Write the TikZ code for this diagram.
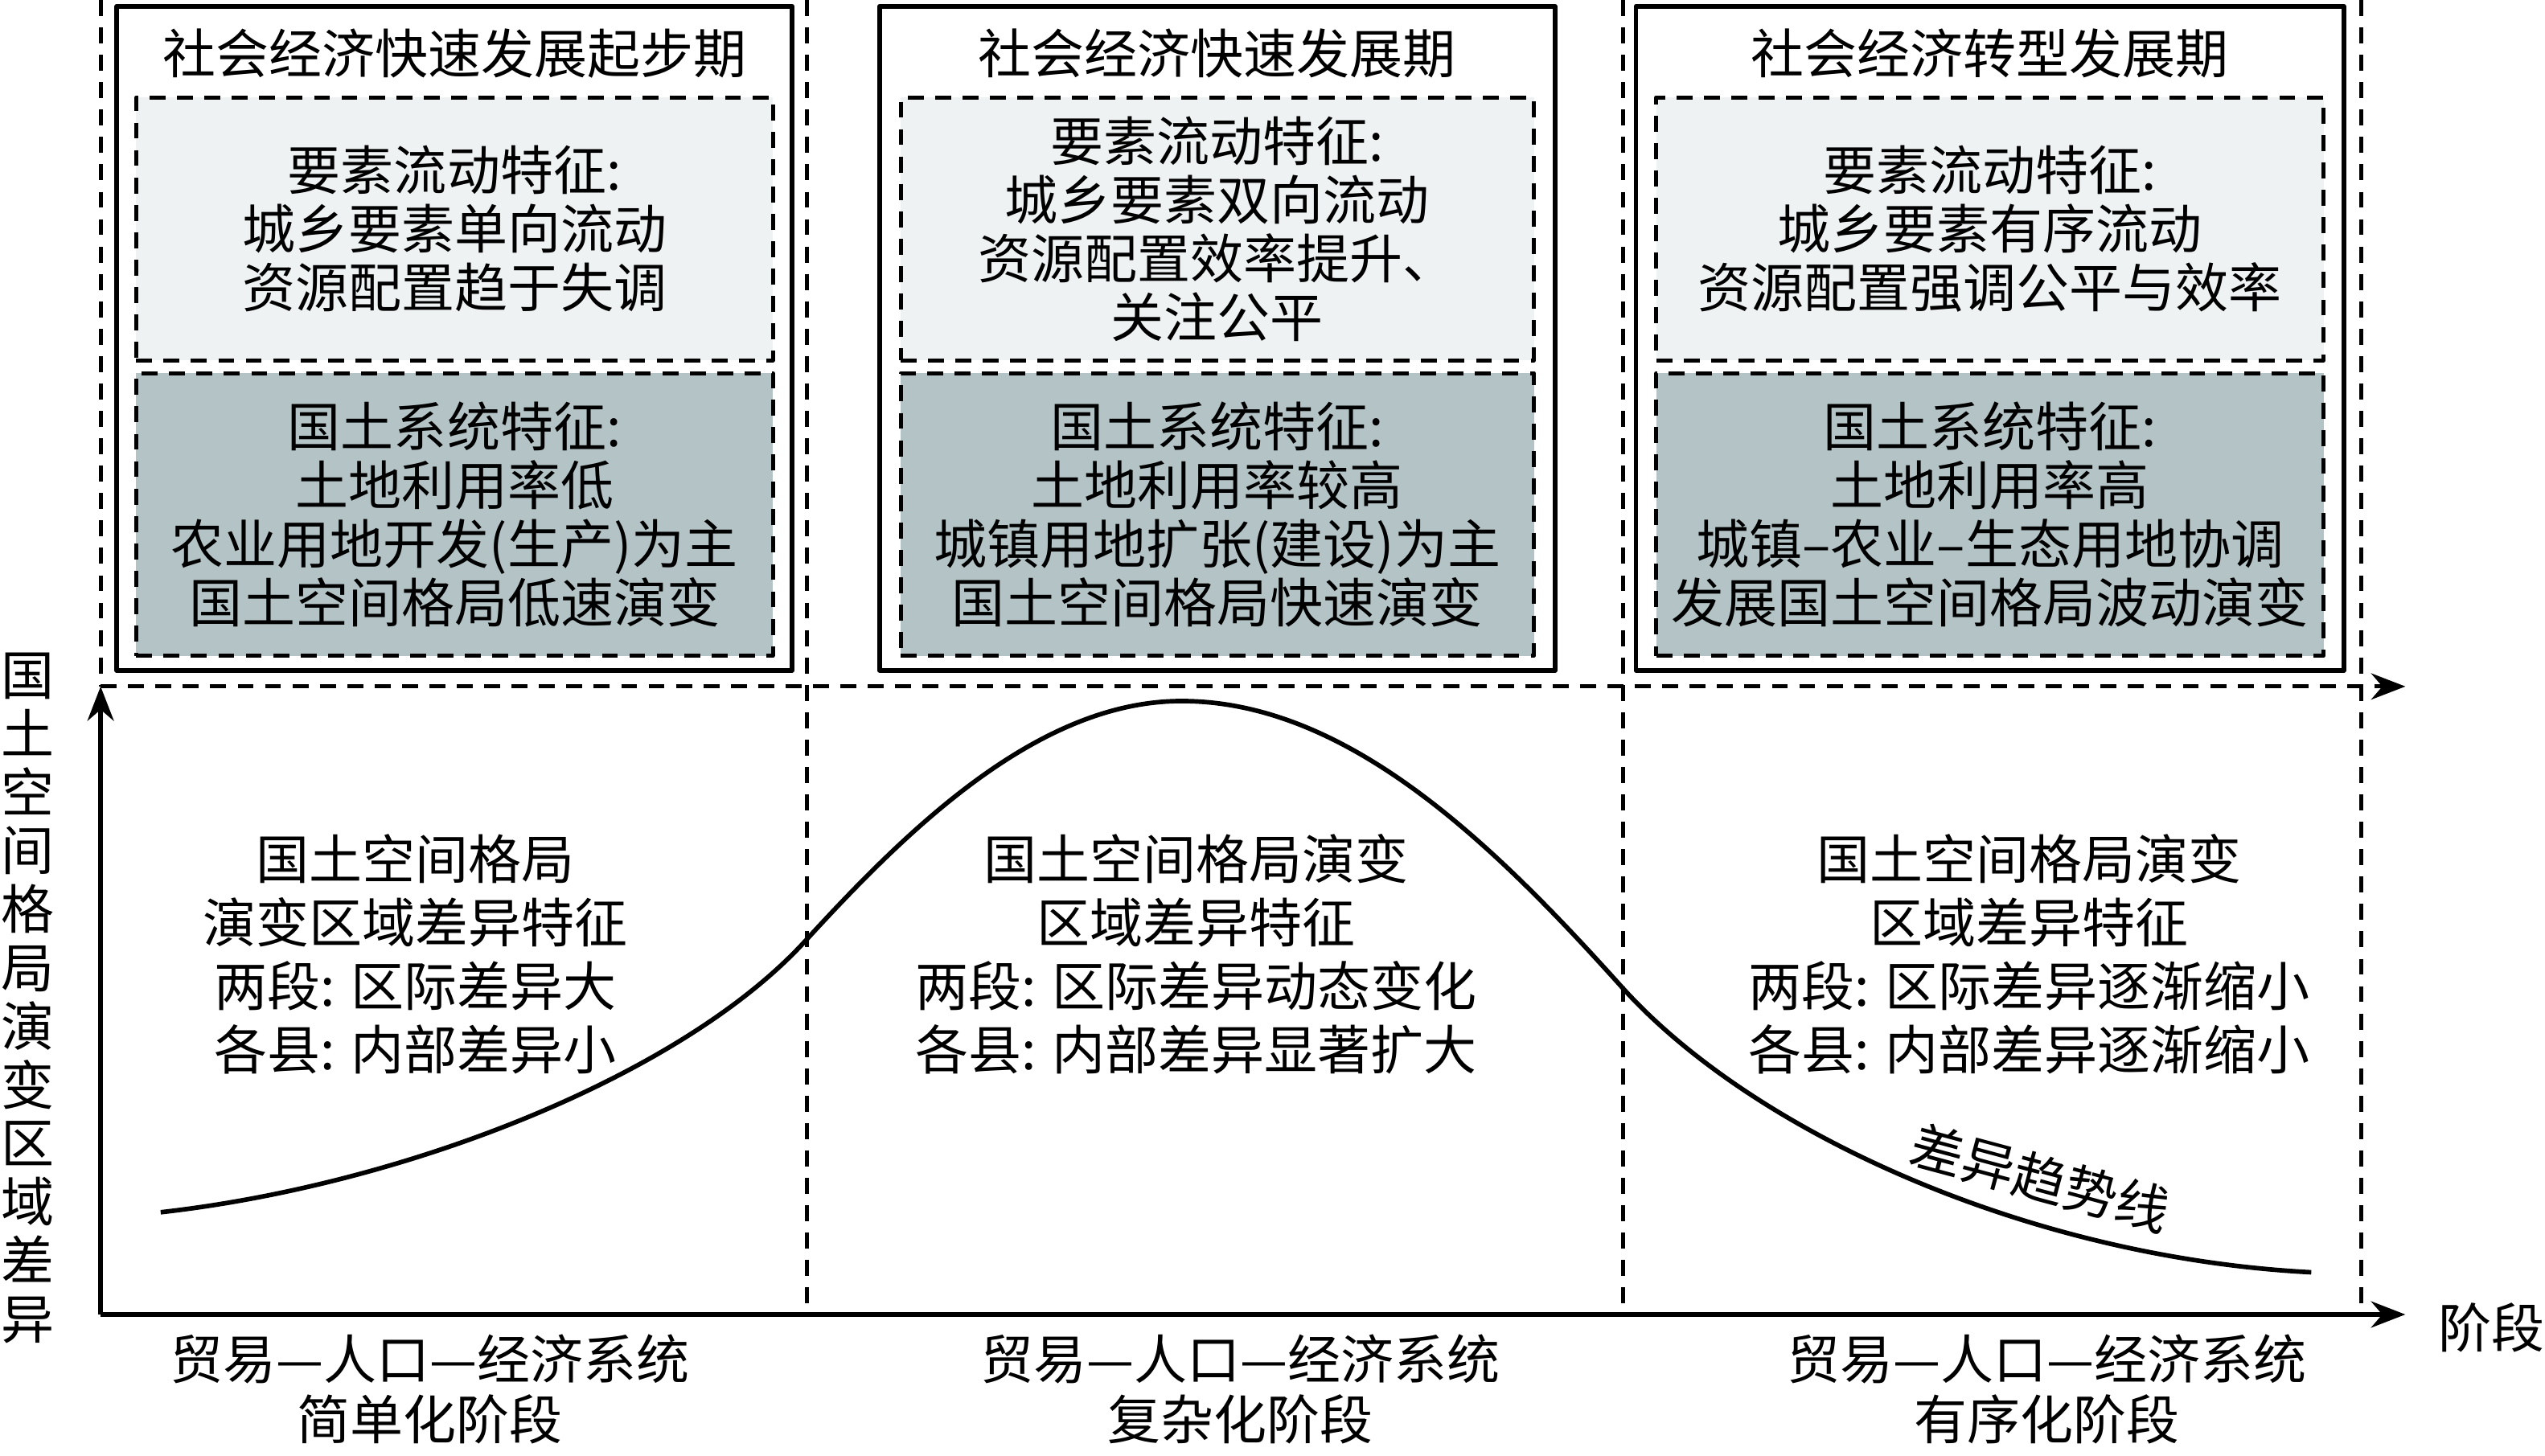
\documentclass[tikz,border=0pt]{standalone}
\usepackage{fontspec}
\newfontfamily\cjk{Noto Sans CJK SC}
\usetikzlibrary{arrows.meta}
\definecolor{flowgray}{HTML}{EEF2F3}
\definecolor{landgray}{HTML}{B4C4C6}

\begin{document}
\begin{tikzpicture}[x=0.01cm, y=-0.01cm, font=\cjk\fontsize{9.3}{10.3}\selectfont, line join=round, >={Stealth[length=6pt,width=4.6pt]},
	panel/.style={draw, line width=0.8pt, minimum height=4.09cm},
	dashline/.style={line width=0.7pt, dash pattern=on 2.8pt off 2pt},
	flowbox/.style={dashline, draw, fill=flowgray, minimum height=1.62cm, align=center, inner sep=0pt},
	landbox/.style={dashline, draw, fill=landgray, minimum height=1.74cm, align=center, inner sep=0pt},
	note/.style={align=center, font=\cjk\fontsize{9.3}{11.1}\selectfont},
	stagename/.style={align=center, font=\cjk\fontsize{9.3}{10.5}\selectfont}]
	\useasboundingbox (0,0) rectangle (1568,897);
	% upper frame
	\coordinate (O) at (62,810);
	\coordinate (xend) at (1482,810);
	\coordinate (ytop) at (62,423);
	\coordinate (tend) at (1482,423);
	\draw[dashline] (62,0) -- (ytop);
	\foreach \x in {497,1000,1455} \draw[dashline] (\x,0) -- (\x,810);
	\draw[dashline,->] (ytop) -- (tend);
	% three periods
	\node[panel, minimum width=4.16cm] (stage1) at (280,208.5) {};
	\node[panel, minimum width=4.16cm] (stage2) at (750,208.5) {};
	\node[panel, minimum width=4.36cm] (stage3) at (1226,208.5) {};
	\node (title1) at (280,33) {社会经济快速发展起步期};
	\node (title2) at (750,33) {社会经济快速发展期};
	\node (title3) at (1226,33) {社会经济转型发展期};
	\node[flowbox, minimum width=3.92cm] (flow1) at (280,141) {要素流动特征:\\城乡要素单向流动\\资源配置趋于失调};
	\node[flowbox, minimum width=3.9cm] (flow2) at (750,141) {要素流动特征:\\城乡要素双向流动\\资源配置效率提升、\\关注公平};
	\node[flowbox, minimum width=4.11cm] (flow3) at (1226,141) {要素流动特征:\\城乡要素有序流动\\资源配置强调公平与效率};
	\node[landbox, minimum width=3.92cm] (land1) at (280,317) {国土系统特征:\\土地利用率低\\农业用地开发(生产)为主\\国土空间格局低速演变};
	\node[landbox, minimum width=3.9cm] (land2) at (750,317) {国土系统特征:\\土地利用率较高\\城镇用地扩张(建设)为主\\国土空间格局快速演变};
	\node[landbox, minimum width=4.11cm] (land3) at (1226,317) {国土系统特征:\\土地利用率高\\城镇–农业–生态用地协调\\发展国土空间格局波动演变};
	% axes
	\draw[->, line width=0.9pt] (O) -- (xend);
	\draw[->, line width=0.9pt] (O) -- (ytop);
	\node (xlabel) at (1535,818) {阶段};
	\node[align=center, font=\cjk\fontsize{9.3}{10.25}\selectfont] (ylabel) at (17,615) {国\\土\\空\\间\\格\\局\\演\\变\\区\\域\\差\\异};
	% trend line
	\draw[line width=0.8pt] (99,747) .. controls (250,730) and (420,663) .. (496,580)
		.. controls (560,510) and (640,432) .. (728,432)
		.. controls (830,432) and (920,520) .. (999,608)
		.. controls (1080,698) and (1250,775) .. (1424,784);
	\node[rotate=-15] (trend) at (1257,726) {差异趋势线};
	% regional differences
	\node[note] (diff1) at (256,588) {国土空间格局\\演变区域差异特征\\两段: 区际差异大\\各县: 内部差异小};
	\node[note] (diff2) at (737,588) {国土空间格局演变\\区域差异特征\\两段: 区际差异动态变化\\各县: 内部差异显著扩大};
	\node[note] (diff3) at (1250,588) {国土空间格局演变\\区域差异特征\\两段: 区际差异逐渐缩小\\各县: 内部差异逐渐缩小};
	% stages
	\node[stagename] (sys1) at (265,856) {贸易—人口—经济系统\\简单化阶段};
	\node[stagename] (sys2) at (764,856) {贸易—人口—经济系统\\复杂化阶段};
	\node[stagename] (sys3) at (1261,856) {贸易—人口—经济系统\\有序化阶段};
\end{tikzpicture}
\end{document}
